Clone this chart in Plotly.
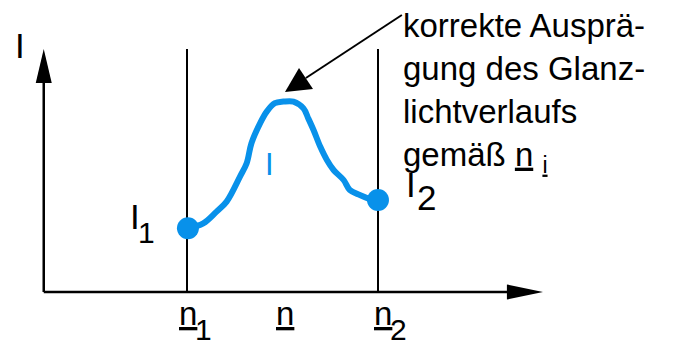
import plotly.graph_objects as go

# Schematic highlight intensity profile between refractive indices n1 and n2
n_curve = [3.02, 3.34, 3.62, 3.83, 4.11, 4.25, 4.35, 4.53, 4.67, 4.84, 5.02, 5.23,
           5.44, 5.54, 5.65, 5.79, 5.93, 6.07, 6.28, 6.41, 6.62, 6.90, 7.0]
I_curve = [3.19, 3.43, 4.02, 4.52, 5.77, 6.44, 7.44, 8.43, 9.02, 9.44, 9.52, 9.52,
           9.18, 8.68, 8.10, 7.27, 6.60, 6.10, 5.60, 5.10, 4.85, 4.60, 4.60]
n_limits = [3.0, 7.0]          # n1, n2
tick_labels = ["n", "n", "n"]  # n1, n, n2 (subscripts drawn separately)
tick_pos = [3.03, 5.06, 7.105]

BLUE = "#0891EA"
FONT = "Liberation Sans, Arial, sans-serif"

fig = go.Figure()

# intensity curve
fig.add_trace(go.Scatter(
    x=n_curve, y=I_curve, mode="lines",
    line=dict(color=BLUE, width=6, shape="spline", smoothing=1.0),
    hoverinfo="skip", showlegend=False))

# end points I1 and I2
fig.add_trace(go.Scatter(
    x=[n_curve[0], n_curve[-1]], y=[I_curve[0], I_curve[-1]], mode="markers",
    marker=dict(color=BLUE, size=22, line=dict(width=0)),
    hoverinfo="skip", showlegend=False))

AX = dict(color="black", width=2.5)
THIN = dict(color="black", width=2)
shapes = [
    # I axis with arrow
    dict(type="line", x0=0, y0=0, x1=0, y1=10.7, line=AX),
    dict(type="path", path="M -0.1675,10.45 L 0,12.15 L 0.1675,10.45 Z",
         fillcolor="black", line=dict(width=0)),
    # n axis with arrow
    dict(type="line", x0=0, y0=0, x1=9.8, y1=0, line=AX),
    dict(type="path", path="M 9.70,-0.38 L 10.456,0 L 9.70,0.38 Z",
         fillcolor="black", line=dict(width=0)),
    # pointer to the peak
    dict(type="line", x0=5.49, y0=10.7, x1=7.50, y1=13.85, line=THIN),
    dict(type="path", path="M 5.052,10.0 L 5.346,11.2 L 5.639,10.15 Z",
         fillcolor="black", line=dict(width=0)),
]
for n in n_limits:
    shapes.append(dict(type="line", x0=n, y0=0, x1=n, y1=12.15,
                       line=THIN, layer="below"))

annotations = []


def label(text, x, y, size, color="black", xanchor="center", yanchor="middle", align="center"):
    annotations.append(dict(
        text=text, x=x, y=y, xref="x", yref="y", showarrow=False,
        xanchor=xanchor, yanchor=yanchor, align=align,
        borderpad=0, borderwidth=0,
        font=dict(family=FONT, size=size, color=color)))


label("I", -0.497, 12.33, 35)
label("I", 1.911, 3.775, 35)
label("1", 2.152, 2.975, 30)
label("I", 7.691, 5.375, 35)
label("2", 8.026, 4.725, 35)
label("I", 4.738, 6.4, 31, color=BLUE)

for t, x in zip(tick_labels, tick_pos):
    label("<u>%s</u>" % t, x, -1.08, 33)
label("1", 3.356, -1.855, 30)
label("2", 7.43, -1.855, 30)

label("korrekte Ausprä-<br>gung des Glanz-<br>lichtverlaufs<br>gemäß <u>n</u> <sub><u>i</u></sub>",
      7.523, 14.25, 33, xanchor="left", yanchor="top", align="left")

fig.update_layout(
    width=681, height=340, autosize=False,
    margin=dict(l=0, r=0, t=0, b=0, pad=0),
    paper_bgcolor="white", plot_bgcolor="white",
    xaxis=dict(range=[-0.916, 13.346], visible=False, fixedrange=True),
    yaxis=dict(range=[-2.4, 14.6], visible=False, fixedrange=True),
    shapes=shapes, annotations=annotations,
    hovermode=False,
)

fig.write_html("out.html", config={"displayModeBar": False, "staticPlot": True})
